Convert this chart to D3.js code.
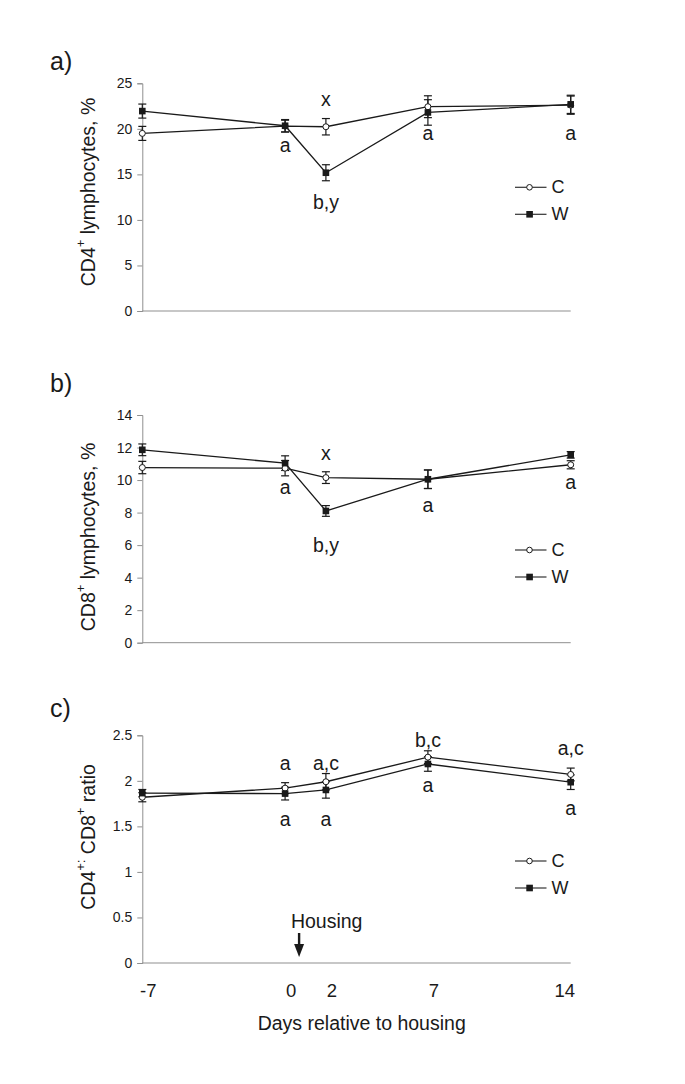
<!DOCTYPE html>
<html><head><meta charset="utf-8">
<script src="https://cdn.jsdelivr.net/npm/d3@7"></script>
<style>body{margin:0;background:#fff}svg{display:block;font-family:Arial,"Liberation Sans",sans-serif}</style>
</head><body>
<script>
// ---- data ----
const days = [-7, 0, 2, 7, 14];
const xTickLabels = ["-7", "0", "2", "7", "14"];

const cd4C = [19.5, 20.3, 20.23, 22.43, 22.6];
const cd4CErr = [0.77, 0.65, 0.9, 1.2, 1.0];
const cd4W = [21.95, 20.34, 15.18, 21.8, 22.69];
const cd4WErr = [0.77, 0.68, 0.88, 1.4, 1.0];
const cd4Ticks = [0, 5, 10, 15, 20, 25];
const cd4Notes = [
  {day: 2, y: 23.27, t: "x"}, {day: 2, y: 12.0, t: "b,y"},
  {day: 0, y: 18.2, t: "a"}, {day: 7, y: 19.5, t: "a"}, {day: 14, y: 19.5, t: "a"}];

const cd8C = [10.77, 10.73, 10.15, 10.05, 10.94];
const cd8CErr = [0.38, 0.47, 0.36, 0.57, 0.25];
const cd8W = [11.86, 11.04, 8.1, 10.05, 11.55];
const cd8WErr = [0.36, 0.45, 0.33, 0.57, 0.2];
const cd8Ticks = [0, 2, 4, 6, 8, 10, 12, 14];
const cd8Notes = [
  {day: 2, y: 11.65, t: "x"}, {day: 2, y: 6.01, t: "b,y"},
  {day: 0, y: 9.56, t: "a"}, {day: 7, y: 8.47, t: "a"}, {day: 14, y: 9.91, t: "a"}];

const ratioC = [1.82, 1.92, 1.99, 2.26, 2.07];
const ratioCErr = [0.05, 0.06, 0.09, 0.07, 0.07];
const ratioW = [1.865, 1.86, 1.9, 2.185, 1.985];
const ratioWErr = [0.04, 0.07, 0.09, 0.08, 0.08];
const ratioTicks = [0, 0.5, 1, 1.5, 2, 2.5];
const ratioNotes = [
  {day: 0, y: 2.2, t: "a"}, {day: 2, y: 2.2, t: "a,c"}, {day: 7, y: 2.45, t: "b,c"}, {day: 14, y: 2.36, t: "a,c"},
  {day: 0, y: 1.58, t: "a"}, {day: 2, y: 1.58, t: "a"}, {day: 7, y: 1.95, t: "a"}, {day: 14, y: 1.7, t: "a"}];

// ---- layout ----
const W = 685, H = 1084;
const svg = d3.select("body").append("svg").attr("width", W).attr("height", H);
const x = d3.scaleLinear().domain([-7, 14]).range([142.3, 570.7]);

const panels = [
  {lab: "a)", labY: 70, y0: 311, y1: 83.3, max: 25, ticks: cd4Ticks, fmt: d3.format("d"),
   C: cd4C, Ce: cd4CErr, Wv: cd4W, We: cd4WErr, notes: cd4Notes, legY: 187.3, ylabCy: 192,
   ylab: [["CD4", 0], ["+", 1], [" lymphocytes, %", 0]]},
  {lab: "b)", labY: 392, y0: 642.7, y1: 415, max: 14, ticks: cd8Ticks, fmt: d3.format("d"),
   C: cd8C, Ce: cd8CErr, Wv: cd8W, We: cd8WErr, notes: cd8Notes, legY: 550, ylabCy: 537,
   ylab: [["CD8", 0], ["+", 1], [" lymphocytes, %", 0]]},
  {lab: "c)", labY: 717, y0: 963, y1: 735.3, max: 2.5, ticks: ratioTicks, fmt: d => String(d),
   C: ratioC, Ce: ratioCErr, Wv: ratioW, We: ratioWErr, notes: ratioNotes, legY: 861, ylabCy: 837,
   ylab: [["CD4", 0], ["+:", 1], [" CD8", 0], ["+", 1], [" ratio", 0]]}
];

const ink = "#1a1a1a", axisCol = "#8f8f8f";

panels.forEach((p, pi) => {
  const y = d3.scaleLinear().domain([0, p.max]).range([p.y0, p.y1]);
  const g = svg.append("g");

  g.append("text").attr("x", 50).attr("y", p.labY).attr("font-size", 25).attr("fill", ink).text(p.lab);

  // y axis
  const ya = g.append("g").attr("transform", `translate(${x(-7)},0)`)
    .call(d3.axisLeft(y).tickValues(p.ticks).tickFormat(p.fmt).tickSize(5).tickPadding(5));
  ya.select(".domain").attr("stroke", axisCol);
  ya.selectAll(".tick line").attr("stroke", axisCol);
  ya.selectAll(".tick text").attr("font-size", 14).attr("fill", ink).attr("font-family", "Arial, 'Liberation Sans', sans-serif");

  // x axis line
  g.append("line").attr("x1", x(-7)).attr("x2", x(14)).attr("y1", y(0)).attr("y2", y(0)).attr("stroke", axisCol);

  // y label
  const yl = g.append("text").attr("transform", `translate(88,${p.ylabCy}) rotate(-90)`)
    .attr("text-anchor", "middle").attr("dominant-baseline", "central").attr("font-size", 19.5).attr("fill", ink);
  p.ylab.forEach(([t, sup]) => {
    const ts = yl.append("tspan").text(t);
    if (sup) ts.attr("font-size", 13).attr("baseline-shift", "super");
  });

  const series = [
    {v: p.C, e: p.Ce, filled: false},
    {v: p.Wv, e: p.We, filled: true}
  ];
  const line = d3.line().x(d => x(d[0])).y(d => y(d[1]));
  series.forEach(s => {
    const pts = days.map((d, i) => [d, s.v[i], s.e[i]]);
    g.append("path").attr("d", line(pts)).attr("fill", "none").attr("stroke", ink).attr("stroke-width", 1.3);
    const eb = g.append("g").attr("stroke", ink).attr("stroke-width", 1.2);
    pts.forEach(([d, v, e]) => {
      eb.append("line").attr("x1", x(d)).attr("x2", x(d)).attr("y1", y(v - e)).attr("y2", y(v + e));
      eb.append("line").attr("x1", x(d) - 4).attr("x2", x(d) + 4).attr("y1", y(v - e)).attr("y2", y(v - e));
      eb.append("line").attr("x1", x(d) - 4).attr("x2", x(d) + 4).attr("y1", y(v + e)).attr("y2", y(v + e));
    });
  });
  series.forEach(s => {
    days.forEach((d, i) => {
      if (s.filled) {
        g.append("rect").attr("x", x(d) - 3.3).attr("y", y(s.v[i]) - 3.3).attr("width", 6.6).attr("height", 6.6).attr("fill", ink);
      } else {
        g.append("circle").attr("cx", x(d)).attr("cy", y(s.v[i])).attr("r", 3).attr("fill", "#fff").attr("stroke", ink).attr("stroke-width", 1);
      }
    });
  });

  // annotations
  p.notes.forEach(n => {
    g.append("text").attr("x", x(n.day)).attr("y", y(n.y)).attr("text-anchor", "middle")
      .attr("dominant-baseline", "central").attr("font-size", 19.5).attr("fill", ink).text(n.t);
  });

  // legend
  const lg = g.append("g").attr("transform", `translate(515,${p.legY})`);
  [{t: "C", filled: false, dy: 0}, {t: "W", filled: true, dy: 27}].forEach(l => {
    lg.append("line").attr("x1", 0).attr("x2", 31.5).attr("y1", l.dy).attr("y2", l.dy).attr("stroke", "#333").attr("stroke-width", 1.2);
    if (l.filled) lg.append("rect").attr("x", 11.3).attr("y", l.dy - 3.3).attr("width", 6.6).attr("height", 6.6).attr("fill", ink);
    else lg.append("circle").attr("cx", 14.5).attr("cy", l.dy).attr("r", 2.8).attr("fill", "#fff").attr("stroke", ink);
    lg.append("text").attr("x", 36.5).attr("y", l.dy).attr("dominant-baseline", "central").attr("font-size", 18).attr("fill", ink).text(l.t);
  });

  if (pi === 2) {
    // x tick labels
    days.forEach((d, i) => {
      g.append("text").attr("x", x(d) + (i === 4 ? -6 : 6)).attr("y", 990.7).attr("text-anchor", "middle")
        .attr("dominant-baseline", "central").attr("font-size", 18.5).attr("fill", ink).text(xTickLabels[i]);
    });
    g.append("text").attr("x", 361.7).attr("y", 1023).attr("text-anchor", "middle").attr("dominant-baseline", "central")
      .attr("font-size", 19.5).attr("fill", ink).text("Days relative to housing");
    // Housing arrow
    const ax = x(0) + 14;
    g.append("text").attr("x", x(0) + 41.6).attr("y", 920.7).attr("text-anchor", "middle").attr("dominant-baseline", "central")
      .attr("font-size", 19.5).attr("fill", ink).text("Housing");
    g.append("line").attr("x1", ax).attr("x2", ax).attr("y1", 933).attr("y2", 946).attr("stroke", ink).attr("stroke-width", 2.4);
    g.append("path").attr("d", `M${ax - 5},944 L${ax + 5},944 L${ax},957 Z`).attr("fill", ink);
  }
});
</script>
</body></html>
